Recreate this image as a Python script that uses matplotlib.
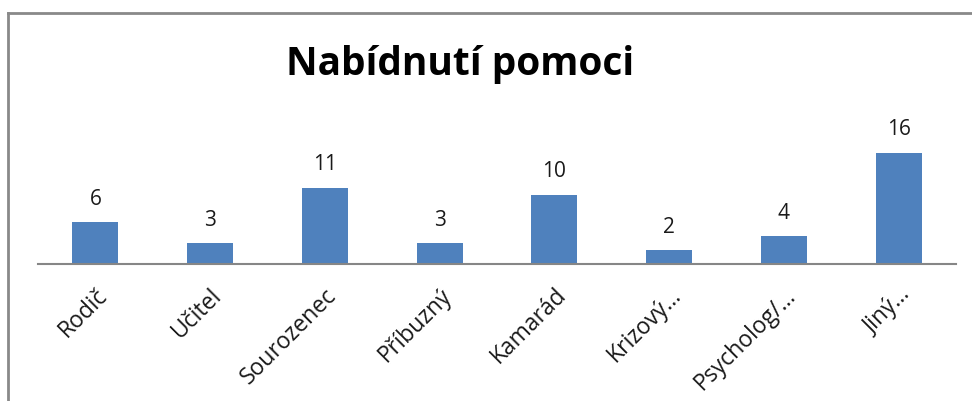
import matplotlib
matplotlib.use("agg")
import matplotlib.pyplot as plt
from matplotlib.lines import Line2D

categories = ["Rodič", "Učitel", "Sourozenec", "Příbuzný", "Kamarád",
              "Krizový…", "Psycholog/…", "Jiný…"]
values = [6, 3, 11, 3, 10, 2, 4, 16]
title = "Nabídnutí pomoci"

plt.rcParams["font.family"] = ["Open Sans", "DejaVu Sans"]

fig = plt.figure(figsize=(9.72, 4.01), dpi=100)
ax = fig.add_axes([38 / 972, 137 / 401, 918 / 972, 125 / 401])

x = list(range(len(categories)))
bars = ax.bar(x, values, width=0.4, color="#4F81BD")
ax.set_xlim(-0.5, len(categories) - 0.5)
ax.set_ylim(0, 18)

for b, v in zip(bars, values):
    ax.annotate(str(v), (b.get_x() + b.get_width() / 2, v),
                xytext=(0, 9), textcoords="offset points",
                ha="center", va="bottom", fontsize=15, color="#1a1a1a")

for s in ["top", "right", "left"]:
    ax.spines[s].set_visible(False)
ax.spines["bottom"].set_color("#868686")
ax.spines["bottom"].set_linewidth(1.5)
ax.set_yticks([])
ax.set_xticks(x)
ax.set_xticklabels(categories, rotation=45, ha="right", va="top",
                   rotation_mode="anchor", fontsize=16.5, color="#1a1a1a")
ax.tick_params(axis="x", length=0, pad=14)

fig.text(460 / 972, 1 - 64 / 401, title, ha="center", va="center",
         fontsize=28, fontweight="bold", color="black")

# outer chart border (left and top edges visible)
fig.add_artist(Line2D([8 / 972, 8 / 972], [0, 1 - 13 / 401],
                      transform=fig.transFigure, color="#898989", lw=2))
fig.add_artist(Line2D([8 / 972, 1], [1 - 13 / 401, 1 - 13 / 401],
                      transform=fig.transFigure, color="#898989", lw=2))

fig.savefig("out.png", dpi=100)
